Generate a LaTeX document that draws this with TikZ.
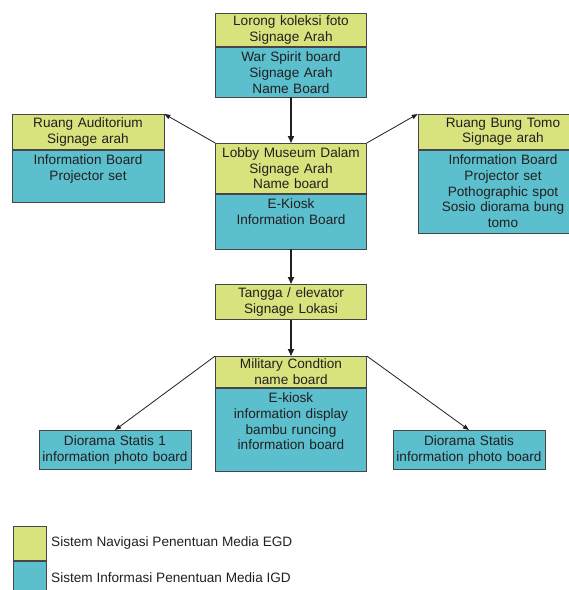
\documentclass[tikz,border=0pt]{standalone}
\usepackage{fontspec}
\setmainfont{Liberation Sans}
\usetikzlibrary{arrows.meta,positioning}

\definecolor{navfill}{RGB}{217,227,125}
\definecolor{infofill}{RGB}{91,191,206}
\definecolor{edgegray}{RGB}{70,70,70}
\definecolor{inkgray}{RGB}{35,31,32}

\begin{document}
\begin{tikzpicture}[
    x=1pt, y=-1pt,
    font=\fontsize{13.6}{15.8}\selectfont,
    text=inkgray,
    nav/.style={draw=edgegray, line width=0.6pt, fill=navfill, text width=145pt, align=center, inner xsep=3pt, inner ysep=0pt, minimum height=#1, anchor=north},
    info/.style={draw=edgegray, line width=0.6pt, fill=infofill, text width=145pt, align=center, inner xsep=3pt, inner ysep=0pt, text height=14.5pt, text depth=#1},
    leaf/.style={draw=edgegray, line width=0.6pt, fill=infofill, text width=146pt, align=center, inner xsep=3pt, inner ysep=0pt, minimum height=39pt, anchor=north},
    key/.style={draw=edgegray, line width=0.6pt, minimum width=33pt, minimum height=34pt, inner sep=0pt, anchor=north},
    keytext/.style={anchor=west, inner sep=0pt},
    vline/.style={-{Triangle[length=7pt,width=6pt]}, line width=1.6pt, draw=inkgray},
    dline/.style={-{Triangle[length=6pt,width=4.5pt]}, line width=0.8pt, draw=inkgray}
]
\useasboundingbox (0,0) rectangle (569,590);

% top row
\node[nav=33pt] (lorong) at (291,13) {Lorong koleksi foto\\Signage Arah};
\node[info=35.5pt, below=0pt of lorong] (lorongInfo) {War Spirit board\\Signage Arah\\Name Board};

% middle row
\node[nav=35pt, text width=146pt] (auditorium) at (88,114) {Ruang Auditorium\\Signage arah};
\node[info=37.5pt, text width=146pt, below=0pt of auditorium] (auditoriumInfo) {Information Board\\Projector set};

\node[nav=50pt] (lobby) at (291,143) {Lobby Museum Dalam\\Signage Arah\\Name board};
\node[info=40.5pt, below=0pt of lobby] (lobbyInfo) {E-Kiosk\\Information Board};

\node[nav=35pt, text width=164pt] (bungtomo) at (503,114) {Ruang Bung Tomo\\Signage arah};
\node[info=68.5pt, text width=164pt, below=0pt of bungtomo] (bungtomoInfo) {Information Board\\Projector set\\Pothographic spot\\Sosio diorama bung\\tomo};

% lower part
\node[nav=35pt] (tangga) at (291,284) {Tangga / elevator\\Signage Lokasi};

\node[nav=31pt] (military) at (291,356) {Military Condtion\\name board};
\node[info=68.5pt, below=0pt of military] (militaryInfo) {E-kiosk\\information display\\bambu runcing\\information board};

\node[leaf] (diorama1) at (115,430) {Diorama Statis 1\\information photo board};
\node[leaf] (diorama2) at (469,430) {Diorama Statis\\information photo board};

% arrows
\draw[vline] (lorongInfo) -- (lobby);
\draw[vline] (lobbyInfo) -- (tangga);
\draw[vline] (tangga) -- (military);
\draw[dline] (lobby.north west) -- (auditorium.north east);
\draw[dline] (lobby.north east) -- (bungtomo.north west);
\draw[dline] (military.north west) -- (diorama1.north);
\draw[dline] (military.north east) -- (diorama2.north);

% legend
\node[key, fill=navfill] (keyNav) at (29.5,526) {};
\node[key, fill=infofill, below=0pt of keyNav] (keyInfo) {};
\node[keytext] (keyNavText) at (51,543) {Sistem Navigasi Penentuan Media EGD};
\node[keytext] (keyInfoText) at (51,578) {Sistem Informasi Penentuan Media IGD};

\end{tikzpicture}
\end{document}
